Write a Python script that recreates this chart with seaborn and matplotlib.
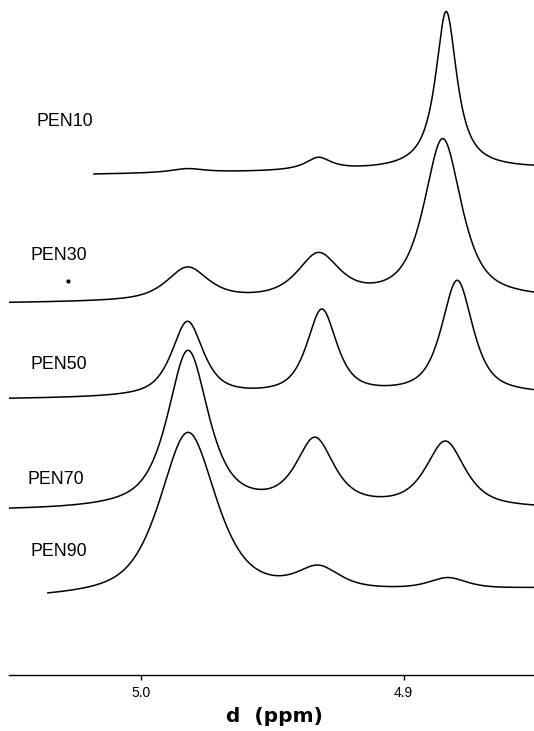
import numpy as np
import pandas as pd
import matplotlib
matplotlib.use("Agg")
import matplotlib.pyplot as plt
import seaborn as sns

# ---------------- data ----------------
samples = ["PEN10", "PEN30", "PEN50", "PEN70", "PEN90"]

peak_A_ppm = [4.9822, 4.9822, 4.9822, 4.9820, 4.9820]
peak_B_ppm = [4.9324, 4.9324, 4.9311, 4.9337, 4.9324]
peak_C_ppm = [4.8838, 4.8851, 4.8796, 4.8841, 4.8832]

height_A = [4, 33, 75, 158, 163]
height_B = [12.5, 44, 85, 67, 21.5]
height_C = [158, 160, 114, 66, 11]

hwhm_A = [0.0078, 0.0095, 0.0072, 0.0093, 0.0127]
hwhm_B = [0.0060, 0.0095, 0.0068, 0.0086, 0.0095]
hwhm_C = [0.0049, 0.0085, 0.0071, 0.0089, 0.0085]

lorentz_fraction = [0.95, 0.75, 0.75, 0.75, 0.65]

baseline_left = [500.3, 371.4, 275.5, 164.0, 76.0]
baseline_right = [506.3, 375.3, 279.7, 165.4, 85.7]

start_ppm = [5.0179, 5.0503, 5.0503, 5.0503, 5.0354]
end_ppm = 4.8504

tick_values = [5.0, 4.9]
tick_labels = ["5.0", "4.9"]
x_label = "d  (ppm)"


# ---------------- build spectra ----------------
def line_shape(x, x0, w, eta):
    d2 = ((x - x0) / w) ** 2
    return eta / (1.0 + d2) + (1 - eta) * np.exp(-np.log(2) * d2)


rows = []
for i, s in enumerate(samples):
    x = np.linspace(start_ppm[i], end_ppm, 900)
    frac = (start_ppm[i] - x) / (start_ppm[i] - end_ppm)
    base = baseline_left[i] + (baseline_right[i] - baseline_left[i]) * frac
    eta = lorentz_fraction[i]
    y = (base
         + height_A[i] * line_shape(x, peak_A_ppm[i], hwhm_A[i], eta)
         + height_B[i] * line_shape(x, peak_B_ppm[i], hwhm_B[i], eta)
         + height_C[i] * line_shape(x, peak_C_ppm[i], hwhm_C[i], eta))
    rows.append(pd.DataFrame({"ppm": x, "intensity": y, "sample": s}))
df = pd.concat(rows, ignore_index=True)

# ---------------- figure ----------------
sns.set_theme(style="white")
plt.rcParams["font.family"] = ["Liberation Sans", "DejaVu Sans"]

W, H = 534, 731
AX_Y = 674.7  # pixel row of the axis line
fig = plt.figure(figsize=(W / 100, H / 100), dpi=100)
ax = fig.add_axes([8.5 / W, (H - AX_Y) / H, (W - 8.5) / W, AX_Y / H])

sns.lineplot(data=df, x="ppm", y="intensity", hue="sample", units="sample",
             estimator=None, sort=False, palette=["black"] * len(samples),
             legend=False, linewidth=1.1, ax=ax)


def px_to_ppm(px):
    return 5.0 - (px - 140.7) / 2629.0


ax.set_xlim(px_to_ppm(8.5), px_to_ppm(534))
ax.set_ylim(0, AX_Y)

label_px = [(36.8, 121.9), (30, 255.6), (30, 364.5), (27.2, 479), (30, 552)]
for s, (lx, ly) in zip(samples, label_px):
    ax.text(px_to_ppm(lx), AX_Y - ly, s, ha="left", va="center",
            fontsize=12.8, color="black")

# small speck next to PEN30
ax.plot([px_to_ppm(68)], [AX_Y - 281], marker="o", ms=2, color="black")

for side in ["top", "left", "right"]:
    ax.spines[side].set_visible(False)
ax.spines["bottom"].set_color("black")
ax.spines["bottom"].set_linewidth(1.0)
ax.set_yticks([])
ax.set_xticks(tick_values)
ax.set_xticklabels(tick_labels, fontsize=10)
ax.tick_params(axis="x", direction="out", length=3.5, width=1, pad=4.6,
               colors="black", bottom=True)
ax.set_xlabel("")
ax.set_ylabel("")

fig.text(274 / W, 1 - 721.7 / H, x_label, ha="center", va="baseline",
         fontsize=14.5, fontweight="bold", color="black",
         family="DejaVu Sans")

fig.savefig("out.png", dpi=100, facecolor="white")
